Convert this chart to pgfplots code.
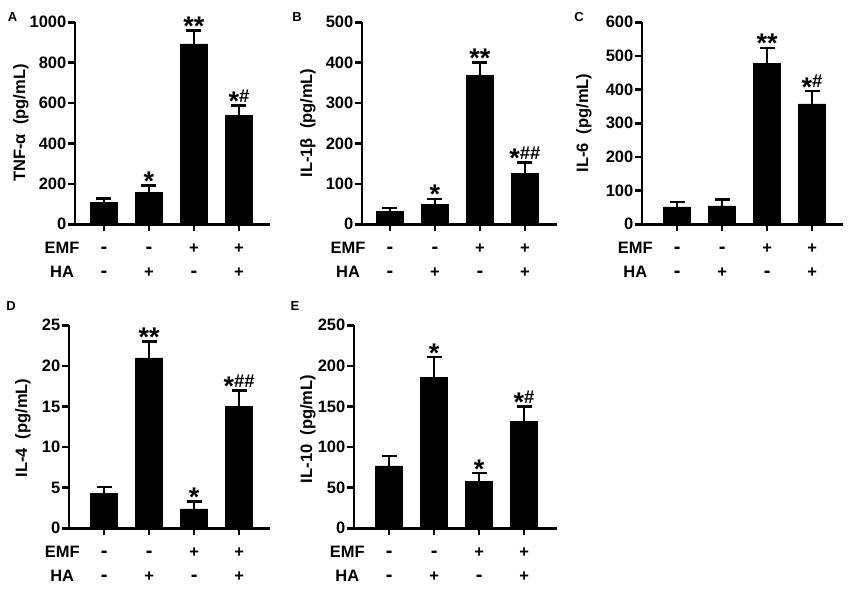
\documentclass[border=0pt]{standalone}
\usepackage{fontspec}
\setmainfont{Liberation Sans}
\usepackage{pgfplots}
\pgfplotsset{compat=1.18}

\newcommand\txt{\bfseries\fontsize{16.5}{18}\selectfont}
\newcommand\st{{\fontsize{27}{27}\selectfont\raisebox{-0.30em}{*}}}
\newcommand\hs{{\bfseries\fontsize{18.5}{20}\selectfont\#}}
\newcommand\mn{{\bfseries\fontsize{20}{20}\selectfont -}}

\tikzset{
  sg/.style={anchor=base, inner sep=0pt, font=\txt},
  ann/.style={anchor=base, inner sep=0pt, yshift=3pt, font=\txt},
  ylab/.style={rotate=90, anchor=base, inner sep=0pt, font=\txt},
  letter/.style={inner sep=0pt, font=\bfseries\fontsize{13}{14}\selectfont},
}

\pgfplotsset{
  panel/.style={
    x=45pt, anchor=south west, clip=false,
    axis x line*=bottom, axis y line*=left,
    axis line style={line width=2.5pt},
    every tick/.style={black, line width=2.5pt},
    tick align=outside, major tick length=7pt,
    ymin=0,
    xtick={0,1,2,3}, xticklabels={{},{},{},{}},
    yticklabel style={font=\txt, inner xsep=1.5pt},
    /pgf/number format/assume math mode=true,
    /pgf/number format/1000 sep={},
    ybar, bar width=27pt,
  },
  barplot/.style={fill=black, draw=black, bar shift=0pt,
    error bars/.cd, y dir=plus, y explicit,
    error bar style={line width=2.5pt, black},
    error mark options={rotate=90, line width=2.5pt, mark size=7.5pt, black}},
}

\newcommand\signrows{%
  \node[sg, yshift=-29.5pt] at (axis cs:-0.93,0) {EMF};
  \node[sg, yshift=-53.5pt] at (axis cs:-0.93,0) {HA};
  \node[sg, yshift=-29.5pt] at (axis cs:0,0) {\mn};
  \node[sg, yshift=-29.5pt] at (axis cs:1,0) {\mn};
  \node[sg, yshift=-29.5pt] at (axis cs:2,0) {+};
  \node[sg, yshift=-29.5pt] at (axis cs:3,0) {+};
  \node[sg, yshift=-53.5pt] at (axis cs:0,0) {\mn};
  \node[sg, yshift=-53.5pt] at (axis cs:1,0) {+};
  \node[sg, yshift=-53.5pt] at (axis cs:2,0) {\mn};
  \node[sg, yshift=-53.5pt] at (axis cs:3,0) {+};
}

\begin{document}
\begin{tikzpicture}
\path[use as bounding box] (0pt,0pt) rectangle (850pt,591pt);

% ---------- A ----------
\begin{axis}[panel, at={(75pt,366.7pt)}, y=0.202pt, xmin=-0.644, xmax=3.69,
  ymax=1000, ytick={0,200,400,600,800,1000}]
\addplot[barplot] coordinates {(0,107) +- (0,21) (1,158) +- (0,35) (2,893) +- (0,66) (3,539) +- (0,49)};
\node[ann] at (axis cs:1,193) {\st};
\node[ann] at (axis cs:2,959) {\st\st};
\node[ann] at (axis cs:3,588) {\st\hs};
\signrows
\end{axis}

% ---------- B ----------
\begin{axis}[panel, at={(362pt,366.7pt)}, y=0.404pt, xmin=-0.62, xmax=3.71,
  ymax=500, ytick={0,100,200,300,400,500}]
\addplot[barplot] coordinates {(0,32) +- (0,8) (1,50) +- (0,13) (2,368) +- (0,33) (3,126) +- (0,27)};
\node[ann] at (axis cs:1,63) {\st};
\node[ann] at (axis cs:2,401) {\st\st};
\node[ann] at (axis cs:3,153) {\st\hs\hs};
\signrows
\end{axis}

% ---------- C ----------
\begin{axis}[panel, at={(642pt,366.7pt)}, y=0.3367pt, xmin=-0.78, xmax=3.69,
  ymax=600, ytick={0,100,200,300,400,500,600}]
\addplot[barplot] coordinates {(0,52) +- (0,14) (1,55) +- (0,19) (2,479) +- (0,45) (3,358) +- (0,38)};
\node[ann] at (axis cs:2,524) {\st\st};
\node[ann] at (axis cs:3,396) {\st\hs};
\signrows
\end{axis}

% ---------- D ----------
\begin{axis}[panel, at={(69pt,62.7pt)}, y=8.12pt, xmin=-0.78, xmax=3.69,
  ymax=25, ytick={0,5,10,15,20,25}]
\addplot[barplot] coordinates {(0,4.3) +- (0,0.8) (1,21.0) +- (0,2.0) (2,2.4) +- (0,0.9) (3,15.0) +- (0,2.0)};
\node[ann] at (axis cs:1,23.0) {\st\st};
\node[ann] at (axis cs:2,3.3) {\st};
\node[ann] at (axis cs:3,17.0) {\st\hs\hs};
\signrows
\end{axis}

% ---------- E ----------
\begin{axis}[panel, at={(354pt,62.7pt)}, y=0.812pt, xmin=-0.78, xmax=3.73,
  ymax=250, ytick={0,50,100,150,200,250}]
\addplot[barplot] coordinates {(0,77) +- (0,12) (1,186) +- (0,25) (2,58) +- (0,10) (3,132) +- (0,18)};
\node[ann] at (axis cs:1,211) {\st};
\node[ann] at (axis cs:2,68) {\st};
\node[ann] at (axis cs:3,150) {\st\hs};
\signrows
\end{axis}

% y labels
\node[ylab] at (25pt,468pt) {TNF-α\hspace{0.55em}(pg/mL)};
\node[ylab] at (312pt,468pt) {IL-1β\hspace{0.55em}(pg/mL)};
\node[ylab] at (588pt,468pt) {IL-6\hspace{0.55em}(pg/mL)};
\node[ylab] at (27pt,163pt) {IL-4\hspace{0.55em}(pg/mL)};
\node[ylab] at (312pt,162pt) {IL-10\hspace{0.55em}(pg/mL)};

% panel letters
\node[letter] at (12.5pt,574.3pt) {A};
\node[letter] at (297pt,574.3pt) {B};
\node[letter] at (579pt,574.3pt) {C};
\node[letter] at (11pt,285pt) {D};
\node[letter] at (295pt,285pt) {E};
\end{tikzpicture}
\end{document}
